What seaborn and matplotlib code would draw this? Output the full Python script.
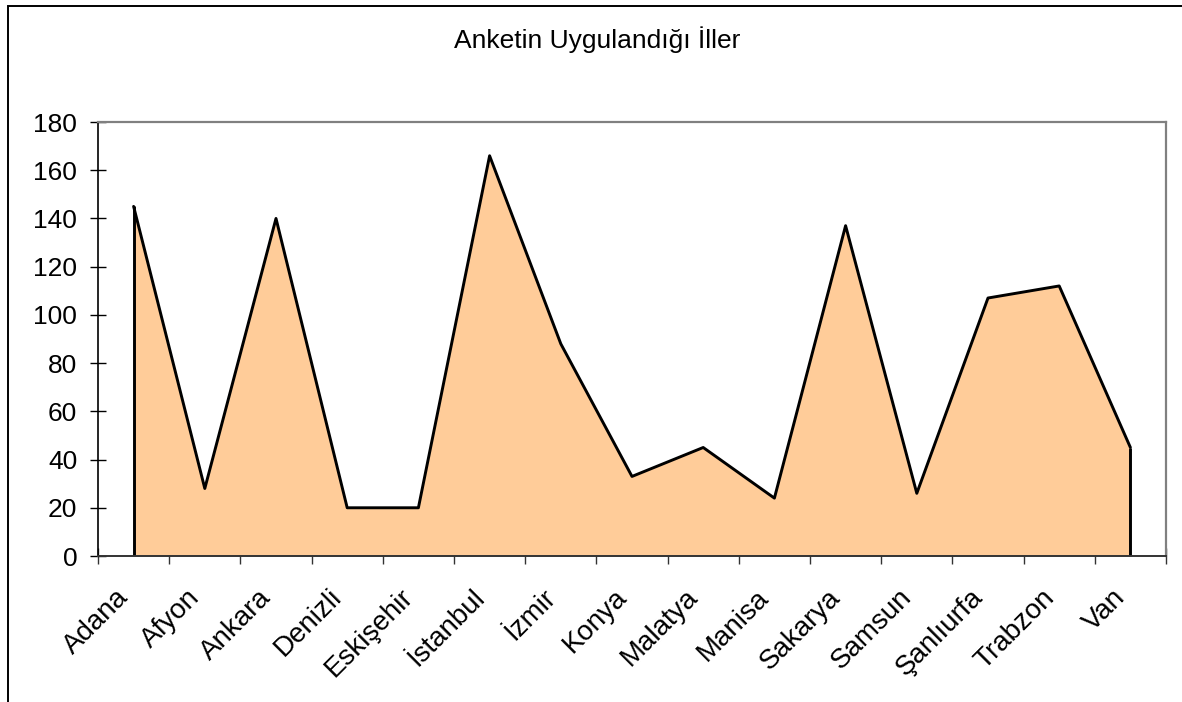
import numpy as np
import pandas as pd
import matplotlib
matplotlib.use("Agg")
import matplotlib.pyplot as plt
from matplotlib.patches import Rectangle
from matplotlib.transforms import ScaledTranslation
import seaborn as sns

cities = ["Adana", "Afyon", "Ankara", "Denizli", "Eskişehir", "İstanbul", "İzmir",
          "Konya", "Malatya", "Manisa", "Sakarya", "Samsun", "Şanlıurfa", "Trabzon", "Van"]
counts = [145, 28, 140, 20, 20, 166, 88, 33, 45, 24, 137, 26, 107, 112, 45]
y_ticks = [0, 20, 40, 60, 80, 100, 120, 140, 160, 180]
title = "Anketin Uygulandığı İller"

sns.set_theme(style="white")
plt.rcParams["font.family"] = ["Liberation Sans", "DejaVu Sans"]

W, H = 1182, 702
fig = plt.figure(figsize=(W / 100, H / 100), dpi=100)
ax = fig.add_axes([98 / W, (H - 556) / H, (1166 - 98) / W, (556 - 122) / H])

df = pd.DataFrame({"pos": np.arange(len(cities)) + 0.5, "count": counts})

ax.fill_between(df["pos"], 0, df["count"], facecolor="#FFCC99", edgecolor="none", zorder=2)
sns.lineplot(data=df, x="pos", y="count", color="black", lw=2.1, ax=ax, zorder=3)
ax.vlines([df["pos"].iloc[0], df["pos"].iloc[-1]], 0,
          [df["count"].iloc[0], df["count"].iloc[-1]], color="black", lw=2.1, zorder=3)

ax.set_xlim(0, len(cities))
ax.set_ylim(0, 180)
ax.set_xlabel("")
ax.set_ylabel("")

ax.set_yticks(y_ticks)
ax.set_yticklabels([str(v) for v in y_ticks], fontsize=19, color="black")
ax.tick_params(axis="y", left=True, direction="inout", length=12, width=1.0,
               color="black", pad=9)

ax.set_xticks(np.arange(len(cities)) + 0.5)
ax.set_xticklabels(cities, rotation=45, ha="right", va="center", rotation_mode="anchor",
                   fontsize=20, color="black")
ax.set_xticks(np.arange(len(cities) + 1), minor=True)
ax.tick_params(axis="x", which="major", bottom=True, length=0, pad=27)
ax.tick_params(axis="x", which="minor", bottom=True, direction="inout", length=12,
               width=1.0, color="#333333")
for lab in ax.get_xticklabels():
    lab.set_transform(lab.get_transform() + ScaledTranslation(-9 / 100, 0, fig.dpi_scale_trans))

for s in ["top", "right"]:
    ax.spines[s].set_color("#808080")
    ax.spines[s].set_linewidth(1.6)
ax.spines["left"].set_color("black")
ax.spines["left"].set_linewidth(1.2)
ax.spines["bottom"].set_color("#333333")
ax.spines["bottom"].set_linewidth(1.4)
ax.spines["bottom"].set_zorder(4)

fig.text(597 / W, 1 - 40 / H, title, ha="center", va="center", fontsize=19, color="black")

fig.patches.append(Rectangle((8 / W, -0.05), 1.2, (H - 5.5) / H + 0.05,
                             transform=fig.transFigure, fill=False,
                             edgecolor="black", lw=1.4))

fig.savefig("out.png", dpi=100)
